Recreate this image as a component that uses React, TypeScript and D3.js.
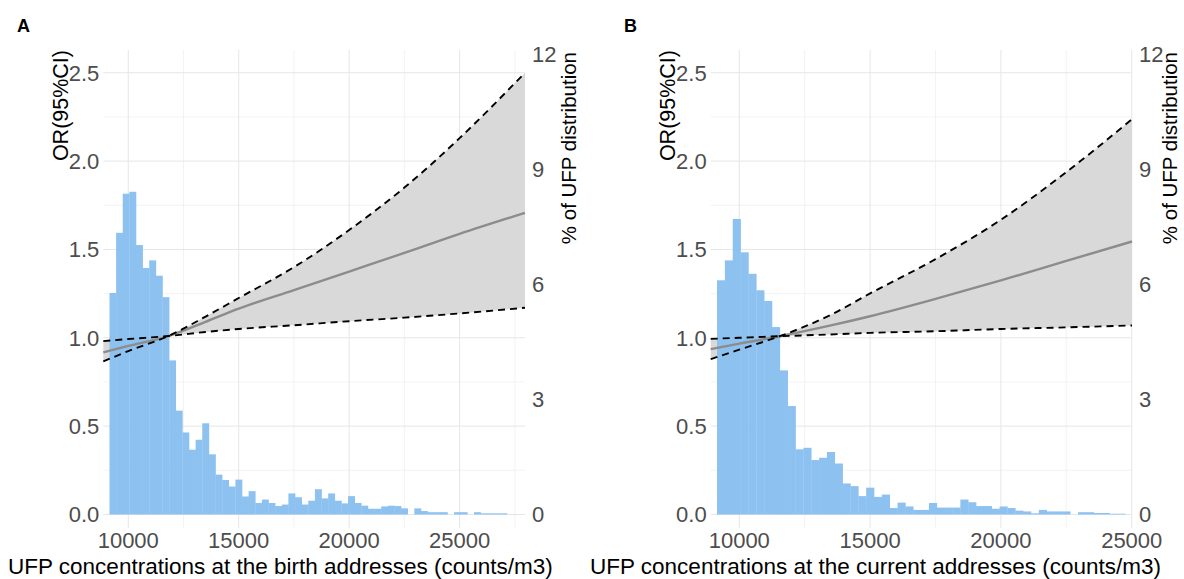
import React from 'react';
import * as d3 from 'd3';

// Histogram bins (width 300 counts/m3, first bin starts at 9150)
const BIN_START = 9150;
const BIN_WIDTH = 300;

// % of UFP distribution per bin, birth addresses (panel A)
const birthPct = [
  5.78, 7.35, 8.37, 8.42, 7.03, 6.43, 6.63, 6.23, 5.67, 4.02,
  2.71, 2.14, 1.69, 1.95, 2.38, 1.57, 1.04, 0.90, 0.73, 0.91,
  0.47, 0.61, 0.30, 0.39, 0.30, 0.22, 0.26, 0.55, 0.45, 0.26,
  0.36, 0.66, 0.42, 0.55, 0.36, 0.29, 0.48, 0.30, 0.23, 0.15,
  0.15, 0.21, 0.23, 0.22, 0.16, 0, 0.16, 0.09, 0.06, 0.06,
  0.06, 0, 0.06, 0.06, 0, 0.06, 0.03, 0.03, 0.03, 0.03,
];

// % of UFP distribution per bin, current addresses (panel B)
const currentPct = [
  6.11, 6.63, 7.71, 6.84, 6.28, 5.85, 5.57, 4.89, 3.76, 2.83,
  1.70, 1.74, 1.42, 1.48, 1.63, 1.33, 0.81, 0.74, 0.48, 0.70,
  0.46, 0.52, 0.17, 0.31, 0.21, 0.12, 0.12, 0.30, 0.18, 0.18,
  0.18, 0.39, 0.32, 0.22, 0.22, 0.15, 0.21, 0.17, 0.10, 0.08,
  0.03, 0.12, 0.08, 0.08, 0.08, 0, 0.06, 0.06, 0.04, 0.04,
  0.02, 0.02,
];

// OR curves, birth addresses
const birthX = [8870, 10000, 11820, 13500, 15000, 17500, 20000, 22500, 25000, 27960];
const birthOR = [0.918, 0.954, 1.010, 1.090, 1.165, 1.270, 1.375, 1.480, 1.588, 1.707];
const birthLow = [0.981, 0.993, 1.010, 1.033, 1.050, 1.071, 1.094, 1.114, 1.138, 1.170];
const birthHigh = [0.866, 0.925, 1.010, 1.120, 1.225, 1.400, 1.610, 1.850, 2.130, 2.500];

// OR curves, current addresses
const currentX = [8908, 10000, 11550, 13500, 15000, 17500, 20000, 22500, 25010];
const currentOR = [0.936, 0.967, 1.009, 1.070, 1.122, 1.220, 1.325, 1.435, 1.545];
const currentLow = [0.994, 1.000, 1.009, 1.019, 1.028, 1.037, 1.050, 1.059, 1.070];
const currentHigh = [0.879, 0.933, 1.009, 1.130, 1.251, 1.445, 1.668, 1.938, 2.237];

const orTicks = [0, 0.5, 1, 1.5, 2, 2.5];
const orMinor = [0.25, 0.75, 1.25, 1.75, 2.25];
const pctTicks = [0, 3, 6, 9, 12];
const xTicks = [10000, 15000, 20000, 25000];
const xMinor = [12500, 17500, 22500, 27500];

const TOP = 50;
const BOTTOM = 528;
const Y0 = 514.5;
const FONT = "'Liberation Sans', Arial, Helvetica, sans-serif";

type PanelProps = {
  left: number;
  right: number;
  xDomain: [number, number];
  pct: number[];
  xs: number[];
  center: number[];
  low: number[];
  high: number[];
  letter: string;
  letterX: number;
  orTitleX: number;
  pctTitleX: number;
  xTitle: string;
  xTitleX: number;
};

function Panel(p: PanelProps) {
  const x = d3.scaleLinear().domain(p.xDomain).range([p.left, p.right]);
  const yOR = d3.scaleLinear().domain([0, 2.5]).range([Y0, Y0 - 2.5 * 176.7]);
  const yPct = d3.scaleLinear().domain([0, 12]).range([Y0, Y0 - 12 * 38.33]);

  const pts = p.xs.map((v, i) => ({ x: v, c: p.center[i], lo: p.low[i], hi: p.high[i] }));
  const area = d3
    .area<any>()
    .x((d) => x(d.x))
    .y0((d) => yOR(d.lo))
    .y1((d) => yOR(d.hi))
    .curve(d3.curveMonotoneX);
  const line = (key: 'c' | 'lo' | 'hi') =>
    d3
      .line<any>()
      .x((d) => x(d.x))
      .y((d) => yOR(d[key]))
      .curve(d3.curveMonotoneX)(pts) || '';

  const inX = (v: number) => v >= p.xDomain[0] && v <= p.xDomain[1] + 20;

  return (
    <g>
      {/* grid */}
      {orMinor.map((t) => (
        <line key={'hm' + t} x1={p.left} x2={p.right} y1={yOR(t)} y2={yOR(t)} stroke="#f0f0f0" strokeWidth={0.8} />
      ))}
      {xMinor.filter(inX).map((t) => (
        <line key={'vm' + t} x1={x(t)} x2={x(t)} y1={TOP} y2={BOTTOM} stroke="#f0f0f0" strokeWidth={0.8} />
      ))}
      {orTicks.map((t) => (
        <line key={'h' + t} x1={p.left} x2={p.right} y1={yOR(t)} y2={yOR(t)} stroke="#e6e6e6" strokeWidth={1} />
      ))}
      {xTicks.filter(inX).map((t) => (
        <line key={'v' + t} x1={x(t)} x2={x(t)} y1={TOP} y2={BOTTOM} stroke="#e6e6e6" strokeWidth={1} />
      ))}

      {/* CI ribbon */}
      <path d={area(pts) || ''} fill="#d9d9d9" />

      {/* histogram */}
      {p.pct.map((v, i) =>
        v > 0 ? (
          <rect
            key={'b' + i}
            x={x(BIN_START + i * BIN_WIDTH)}
            width={x(BIN_START + (i + 1) * BIN_WIDTH) - x(BIN_START + i * BIN_WIDTH) + 0.3}
            y={yPct(v)}
            height={Y0 - yPct(v)}
            fill="#8dc1ef"
          />
        ) : null
      )}

      {/* lines */}
      <path d={line('c')} fill="none" stroke="#8c8c8c" strokeWidth={2.4} />
      <path d={line('lo')} fill="none" stroke="#000" strokeWidth={1.9} strokeDasharray="7,5" />
      <path d={line('hi')} fill="none" stroke="#000" strokeWidth={1.9} strokeDasharray="7,5" />

      {/* left axis */}
      {orTicks.map((t) => (
        <text key={'lt' + t} x={p.left - 4} y={yOR(t)} dy="0.36em" textAnchor="end" fontSize={22} fill="#4d4d4d" fontFamily={FONT}>
          {t.toFixed(1)}
        </text>
      ))}
      {/* right axis */}
      {pctTicks.map((t) => (
        <text key={'rt' + t} x={p.right + 7} y={yPct(t)} dy="0.36em" textAnchor="start" fontSize={22} fill="#4d4d4d" fontFamily={FONT}>
          {t}
        </text>
      ))}
      {/* x axis */}
      {xTicks.map((t) => (
        <text key={'xt' + t} x={x(t)} y={548} textAnchor="middle" fontSize={22} fill="#4d4d4d" fontFamily={FONT}>
          {t}
        </text>
      ))}

      <text transform={`translate(${p.orTitleX},50) rotate(-90)`} textAnchor="end" fontSize={21.5} fill="#000" fontFamily={FONT}>
        OR(95%CI)
      </text>
      <text transform={`translate(${p.pctTitleX},52) rotate(-90)`} textAnchor="end" fontSize={20.5} fill="#000" fontFamily={FONT}>
        % of UFP distribution
      </text>
      <text x={p.xTitleX} y={574} textAnchor="start" fontSize={22.5} fill="#000" fontFamily={FONT}>
        {p.xTitle}
      </text>
      <text x={p.letterX} y={32} fontSize={18} fontWeight="bold" fill="#000" fontFamily={FONT}>
        {p.letter}
      </text>
    </g>
  );
}

export default function App() {
  return (
    <svg
      width={1184}
      height={579}
      viewBox="0 0 1184 579"
      style={{ position: 'absolute', left: 0, top: 0, background: '#fff' }}
    >
      <rect x={0} y={0} width={1184} height={579} fill="#fff" />
      <Panel
        left={103.3}
        right={525}
        xDomain={[8870, 27960]}
        pct={birthPct}
        xs={birthX}
        center={birthOR}
        low={birthLow}
        high={birthHigh}
        letter="A"
        letterX={17}
        orTitleX={68}
        pctTitleX={576}
        xTitle="UFP concentrations at the birth addresses (counts/m3)"
        xTitleX={8}
      />
      <Panel
        left={710.7}
        right={1132}
        xDomain={[8908, 25010]}
        pct={currentPct}
        xs={currentX}
        center={currentOR}
        low={currentLow}
        high={currentHigh}
        letter="B"
        letterX={624}
        orTitleX={675}
        pctTitleX={1177}
        xTitle="UFP concentrations at the current addresses (counts/m3)"
        xTitleX={590}
      />
    </svg>
  );
}
